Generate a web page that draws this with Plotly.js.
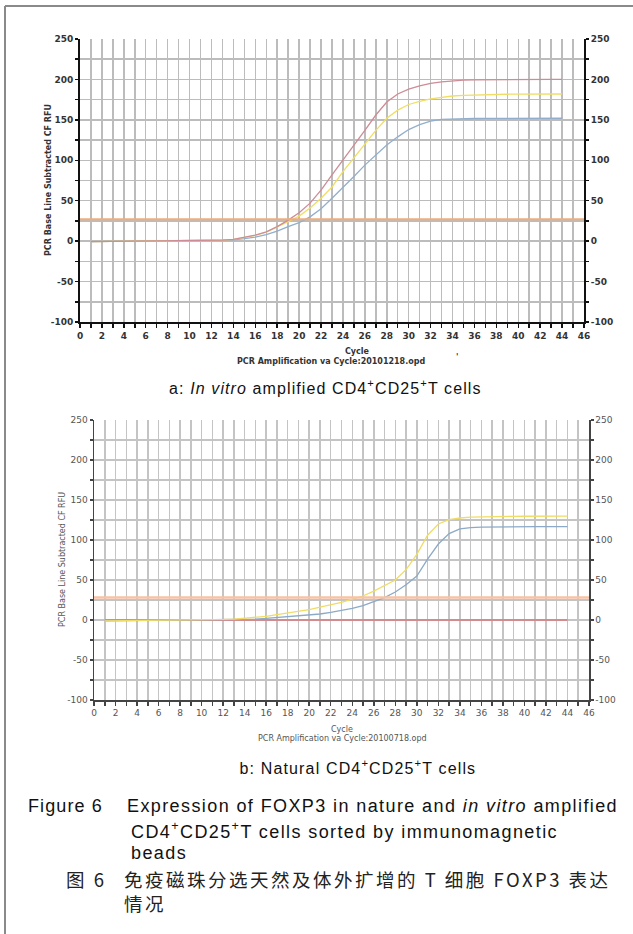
<!DOCTYPE html>
<html>
<head>
<meta charset="utf-8">
<script src="https://cdn.plot.ly/plotly-3.0.1.min.js"></script>
<style id="base">html,body{margin:0;padding:0;background:#fff;}#chart{width:633px;height:934px;}</style>
</head>
<body>
<div id="chart"></div>
<script>
// ---- data ----
var cycles = [1,2,3,4,5,6,7,8,9,10,11,12,13,14,15,16,17,18,19,20,21,22,23,24,25,26,27,28,29,30,31,32,33,34,35,36,37,38,39,40,41,42,43,44];

// panel a: in vitro amplified
var aRed = [-0.5,-0.4,-0.3,-0.2,-0.1,0,0.1,0.2,0.3,0.4,0.6,0.9,1.3,2.3,4.5,7.5,11.5,18,26,35,47,63,82,100,119,137,156,172,182,188,192,195,197,198.5,199.2,199.5,199.7,199.8,199.9,200,200,200,200,200];
var aYellow = [-0.5,-0.4,-0.3,-0.2,-0.1,0,0.1,0.2,0.3,0.4,0.6,0.9,1.3,2.2,4.3,7,11,17,24,31,41,53,67,86,103,121,137,152,162,169,173,176,178,179.5,180.3,180.8,181.2,181.5,181.7,181.8,181.9,182,182,182];
var aBlue = [-0.5,-0.4,-0.3,-0.2,-0.1,0,0.1,0.2,0.2,0.3,0.4,0.6,0.9,1.5,3,5,8,12.5,18,23,30,40,53,66,80,94,106,119,129,138,144,148.5,150.5,151.2,151.5,151.7,151.8,151.9,152,152,152,152,152,152];
var aThresholdX = [0,46];
var aThreshold = [27,27];

// panel b: natural
var bRed = [0,0,0,0,0,0,0,0,0,0,0,0,0,0,0,0,0,0,0,0,0,0,0,0,0,0,0,0,0,0,0,0,0,0,0,0,0,0,0,0,0,0,0,0];
var bYellow = [-1,-0.9,-0.8,-0.7,-0.6,-0.5,-0.4,-0.3,-0.2,0,0.3,0.7,1.2,2,3.3,4.5,6.7,8.5,10.4,13,16,19,22,26,30,36,43,50,63,82,106,120,125.5,127.5,128.5,129,129.3,129.5,129.6,129.7,129.8,129.8,129.8,129.8];
var bBlue = [-1,-0.9,-0.8,-0.7,-0.6,-0.5,-0.4,-0.3,-0.2,-0.1,0,0.2,0.4,0.8,1.2,2,3,4,5,6.2,7.5,9.5,11.7,14.6,18,23,28,35,44,55,76,95,108,114,115.5,116,116.3,116.5,116.6,116.7,116.8,116.8,116.8,116.8];
var bThresholdX = [0,46];
var bThreshold = [28,28];

var yTickVals = [-100,-50,0,50,100,150,200,250];
var yTickLabels = ['-100','-50','0','50','100','150','200','250'];

// ---- geometry helpers ----
var W = 633, H = 934;
function px(x){return x/W;}
function py(y){return 1 - y/H;}

var redA = 'rgb(205,140,150)', yellowA = 'rgb(240,222,100)', blueA = 'rgb(145,175,205)';
var redB = 'rgb(215,120,125)', yellowB = 'rgb(240,220,100)', blueB = 'rgb(140,170,200)';

var traces = [
  {x: aThresholdX, y: aThreshold, xaxis:'x', yaxis:'y2', mode:'lines', line:{color:'rgb(240,172,125)', width:2}, hoverinfo:'skip'},
  {x: cycles, y: aBlue, xaxis:'x', yaxis:'y', mode:'lines', line:{color:blueA, width:1.3}},
  {x: cycles, y: aYellow, xaxis:'x', yaxis:'y', mode:'lines', line:{color:yellowA, width:1.3}},
  {x: cycles, y: aRed, xaxis:'x', yaxis:'y', mode:'lines', line:{color:redA, width:1.3}},
  {x: bThresholdX, y: bThreshold, xaxis:'x3', yaxis:'y4', mode:'lines', line:{color:'rgb(248,195,165)', width:2.5}, hoverinfo:'skip'},
  {x: cycles, y: bRed, xaxis:'x3', yaxis:'y3', mode:'lines', line:{color:redB, width:1.3}},
  {x: cycles, y: bBlue, xaxis:'x3', yaxis:'y3', mode:'lines', line:{color:blueB, width:1.3}},
  {x: cycles, y: bYellow, xaxis:'x3', yaxis:'y3', mode:'lines', line:{color:yellowB, width:1.3}}
];

function xAxis(domain, anchor, style){
  return {
    domain: domain, anchor: anchor, range:[0,46], tick0:0, dtick:2,
    showgrid:true, gridcolor:style.grid, gridwidth:1.5, zeroline:false,
    showline:true, linecolor:style.line, linewidth:style.lw,
    ticks:'outside', ticklen:4, tickwidth:1.5, tickcolor:style.line,
    tickfont:{family:'DejaVu Sans', size:9, color:style.text, weight:style.weight},
    minor:{dtick:1, showgrid:true, gridcolor:style.grid, gridwidth:1.5, ticks:'outside', ticklen:4, tickwidth:1.5, tickcolor:style.line},
    fixedrange:true
  };
}
function yAxis(domain, anchor, style, side, overlay){
  var a = {
    domain: domain, anchor: anchor, range:[-100,250], tickmode:'array', tickvals:yTickVals, ticktext:yTickLabels,
    showgrid: !overlay, gridcolor:style.grid, gridwidth:1.5, zeroline:false,
    showline:true, linecolor:style.line, linewidth:style.lw,
    ticks:'outside', ticklen:3, tickwidth:1.5, tickcolor:style.line,
    tickfont:{family:'DejaVu Sans', size:9, color:style.text, weight:style.weight},
    minor:{dtick:25, tick0:0, showgrid: !overlay, gridcolor:style.grid, gridwidth:1.5, ticks:'outside', ticklen:3, tickwidth:1.5, tickcolor:style.line},
    side: side, fixedrange:true
  };
  if (overlay) { a.overlaying = overlay; delete a.domain; }
  return a;
}

var styleA = {grid:'#bcbcbc', line:'#111', lw:2, text:'#333', weight:'bold'};
var styleB = {grid:'#c4c4c4', line:'#444', lw:1.5, text:'#555', weight:'normal'};

var domAx = [px(80), px(584)], domAy = [py(322), py(39)];
var domBx = [px(94), px(589)], domBy = [py(700), py(420)];

var spacing = []; // letter-spacing per annotation (px), applied via CSS
function ann(text, x, y, opts, ls){
  var a = {text:text, x:px(x), y:py(y), xref:'paper', yref:'paper', showarrow:false,
    xanchor:'center', yanchor:'middle'};
  for (var k in opts) a[k] = opts[k];
  spacing.push(ls || 0);
  return a;
}
var chartFontA = {family:'DejaVu Sans', size:8, color:'#333', weight:'bold'};
var chartFontB = {family:'DejaVu Sans', size:8, color:'#555'};
var subFont = {family:'Liberation Sans, Arial, sans-serif', size:16, color:'#111'};
var capFont = {family:'Liberation Sans, Arial, sans-serif', size:18, color:'#111'};
var cjkFont = {family:'Noto Sans CJK SC, Liberation Sans, sans-serif', size:18.5, color:'#222'};

var annotations = [
  ann('PCR Base Line Subtracted CF RFU', 48, 180, {textangle:-90, font:chartFontA}),
  ann('Cycle', 357, 352, {font:chartFontA}),
  ann('PCR Amplification va Cycle:20101218.opd', 331, 361, {font:chartFontA}),
  ann("'", 457, 357, {font:chartFontA}),
  ann('a: <i>In vitro</i> amplified CD4<sup>+</sup>CD25<sup>+</sup>T cells', 326, 387, {font:subFont}, 1.1),
  ann('PCR Base Line Subtracted CF RFU', 62, 560, {textangle:-90, font:chartFontB}),
  ann('Cycle', 342, 729, {font:chartFontB}),
  ann('PCR Amplification va Cycle:20100718.opd', 342, 738, {font:chartFontB}),
  ann('b: Natural CD4<sup>+</sup>CD25<sup>+</sup>T cells', 358, 767, {font:subFont}, 1.15),
  ann('Figure 6', 26, 806, {xanchor:'left', align:'left', font:capFont}, 1.1),
  ann('Expression of FOXP3 in nature and <i>in vitro</i> amplified', 125, 806, {xanchor:'left', align:'left', font:capFont}, 1.4),
  ann('CD4<sup>+</sup>CD25<sup>+</sup>T cells sorted by immunomagnetic', 129, 830, {xanchor:'left', align:'left', font:capFont}, 1.4),
  ann('beads', 129, 853, {xanchor:'left', align:'left', font:capFont}, 1.4),
  ann('图 6', 64, 879, {xanchor:'left', align:'left', font:cjkFont}, 2.5),
  ann('免疫磁珠分选天然及体外扩增的 T 细胞 FOXP3 表达', 122, 879, {xanchor:'left', align:'left', font:cjkFont}, 2.5),
  ann('情况', 122, 903, {xanchor:'left', align:'left', font:cjkFont}, 2.5)
];

var css = '';
spacing.forEach(function(s, i){
  if (s) css += 'g.annotation[data-index="' + i + '"] text{letter-spacing:' + s + 'px;}\n';
});
var st = document.createElement('style'); st.textContent = css; document.head.appendChild(st);

var layout = {
  width: W, height: H,
  margin:{l:0, r:0, t:0, b:0},
  paper_bgcolor:'#fff', plot_bgcolor:'#fff',
  showlegend:false,
  xaxis: xAxis(domAx, 'y', styleA),
  yaxis: yAxis(domAy, 'x', styleA, 'left', null),
  yaxis2: yAxis(domAy, 'x', styleA, 'right', 'y'),
  xaxis3: xAxis(domBx, 'y3', styleB),
  yaxis3: yAxis(domBy, 'x3', styleB, 'left', null),
  yaxis4: yAxis(domBy, 'x3', styleB, 'right', 'y3'),
  annotations: annotations,
  shapes:[
    {type:'line', xref:'paper', yref:'paper', x0:px(5), x1:1, y0:py(6), y1:py(6), line:{color:'#8a8a8a', width:2}},
    {type:'line', xref:'paper', yref:'paper', x0:px(5), x1:px(5), y0:py(6), y1:0, line:{color:'#8a8a8a', width:2}}
  ]
};

Plotly.newPlot('chart', traces, layout, {staticPlot:true, displayModeBar:false});
</script>
</body>
</html>
